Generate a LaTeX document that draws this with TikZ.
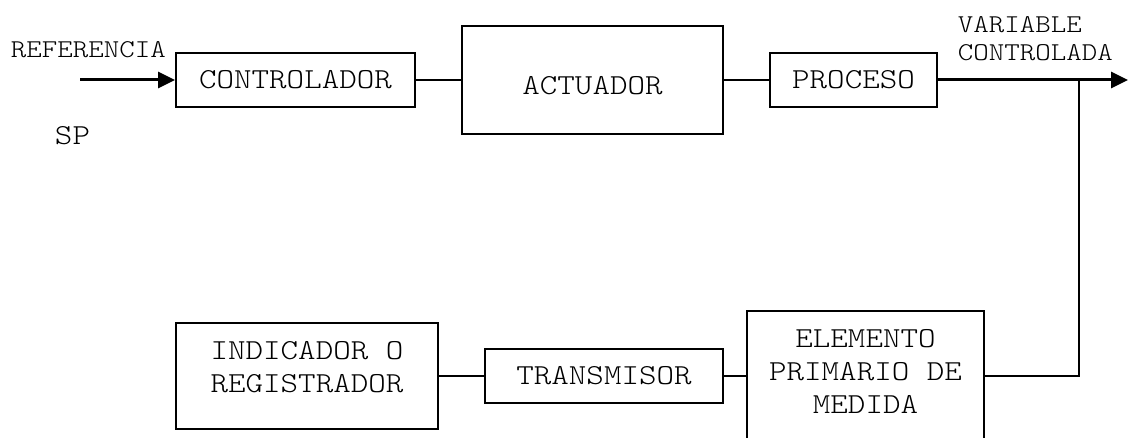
\documentclass[tikz,border=0pt]{standalone}
\usepackage{fontspec}
\newfontfamily\mono[Extension=.otf, FakeStretch=1.15]{lmmonolt10-regular}
\usetikzlibrary{arrows.meta}

\begin{document}
\begin{tikzpicture}[line width=1.1pt,
	bloque/.style={draw, inner sep=0pt, font=\mono\fontsize{16.5}{19}\selectfont},
	texto/.style={inner sep=0pt, align=center, font=\mono\fontsize{16.5}{19}\selectfont},
	chico/.style={inner sep=0pt, align=left, font=\mono\fontsize{14.6}{16}\selectfont},
	flecha/.style={line width=1.7pt, -{Triangle[length=0.34cm, width=0.32cm]}}]
\useasboundingbox (0,0) rectangle (22.62,-8.76);

% lazo directo
\node[bloque, minimum width=4.78cm, minimum height=1.08cm] (ctrl) at (5.91,-1.6) {CONTROLADOR};
\node[bloque, minimum width=5.22cm, minimum height=2.16cm, text height=0.6cm, text depth=0cm] (act) at (11.85,-1.6) {ACTUADOR};
\node[bloque, minimum width=3.34cm, minimum height=1.08cm] (proc) at (17.07,-1.6) {PROCESO};

% lazo de medida
\node[bloque, minimum width=5.24cm, minimum height=2.12cm] (ind) at (6.14,-7.52) {};
\node[texto] (indtxt) at (6.14,-7.34) {INDICADOR O\\REGISTRADOR};
\node[bloque, minimum width=4.76cm, minimum height=1.08cm] (trans) at (12.08,-7.52) {TRANSMISOR};
\node[bloque, minimum width=4.74cm, minimum height=2.6cm] (elem) at (17.31,-7.52) {};
\node[texto] (elemtxt) at (17.31,-7.43) {ELEMENTO\\PRIMARIO DE\\MEDIDA};

\coordinate (entrada) at (1.6,-1.6);
\coordinate (salida) at (22.56,-1.6);
\coordinate (toma) at (21.58,-1.6);

\node[chico, anchor=west] (ref) at (0.2,-1.0) {REFERENCIA};
\node[texto] (sp) at (1.45,-2.72) {SP};
\node[chico, anchor=west] (var) at (19.14,-0.77) {VARIABLE\\CONTROLADA};

\draw[flecha] (entrada) -- (ctrl);
\draw (ctrl) -- (act);
\draw (act) -- (proc);
\draw[flecha] (proc) -- (salida);
\draw (toma) |- (elem);
\draw (trans) -- (elem);
\draw (ind) -- (trans);
\end{tikzpicture}
\end{document}
